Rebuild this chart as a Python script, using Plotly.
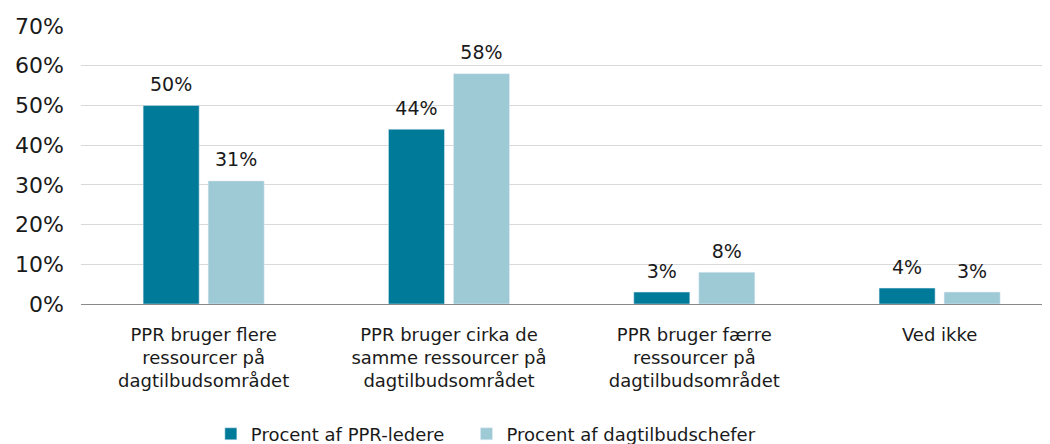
import plotly.graph_objects as go

categorias = [
    "PPR bruger flere<br>ressourcer på<br>dagtilbudsområdet",
    "PPR bruger cirka de<br>samme ressourcer på<br>dagtilbudsområdet",
    "PPR bruger færre<br>ressourcer på<br>dagtilbudsområdet",
    "Ved ikke",
]
ppr_ledere = [0.50, 0.44, 0.03, 0.04]
dagtilbudschefer = [0.31, 0.58, 0.08, 0.03]

serier = [
    ("Procent af PPR-ledere\u00a0\u00a0\u00a0", ppr_ledere, "#007a99"),
    ("Procent af dagtilbudschefer", dagtilbudschefer, "#9ecad6"),
]

FONT = "DejaVu Sans, Verdana, sans-serif"
GAP = 0.47

fig = go.Figure()
for navn, vaerdier, farve in serier:
    fig.add_trace(go.Bar(x=categorias, y=vaerdier, name=navn, marker_color=farve))
# dataetiketter som tekst-scatter grupperet som søjlerne
for navn, vaerdier, farve in serier:
    fig.add_trace(go.Scatter(
        x=categorias, y=vaerdier, mode="markers+text", showlegend=False,
        text=[f"{v:.0%}" for v in vaerdier], textposition="top center",
        marker=dict(size=14, opacity=0), hoverinfo="skip", cliponaxis=False,
        textfont=dict(size=19, color="#1a1a1a"),
    ))

fig.update_layout(
    width=1042, height=436,
    margin=dict(l=73, r=0, t=18, b=140, autoexpand=False),
    plot_bgcolor="white", paper_bgcolor="white",
    font=dict(family=FONT, size=18, color="#1a1a1a"),
    barmode="group", bargap=GAP, bargroupgap=0.138,
    scattermode="group", scattergap=GAP,
    showlegend=True,
    legend=dict(orientation="h", x=0.134, xanchor="left", y=-0.468, yanchor="middle",
                font=dict(size=18)),
)
fig.update_yaxes(range=[0, 0.7], dtick=0.1, tickformat=".0%", showgrid=True,
                 gridcolor="#d9d9d9", zeroline=False, ticks="", automargin=False,
                 tickfont=dict(size=22), ticklabelstandoff=16)
fig.update_xaxes(range=[-0.5, 3.45], showline=True, linecolor="#898989", linewidth=1,
                 ticks="", automargin=False, tickfont=dict(size=18), ticklabelstandoff=14)

fig.write_html("out.html")
